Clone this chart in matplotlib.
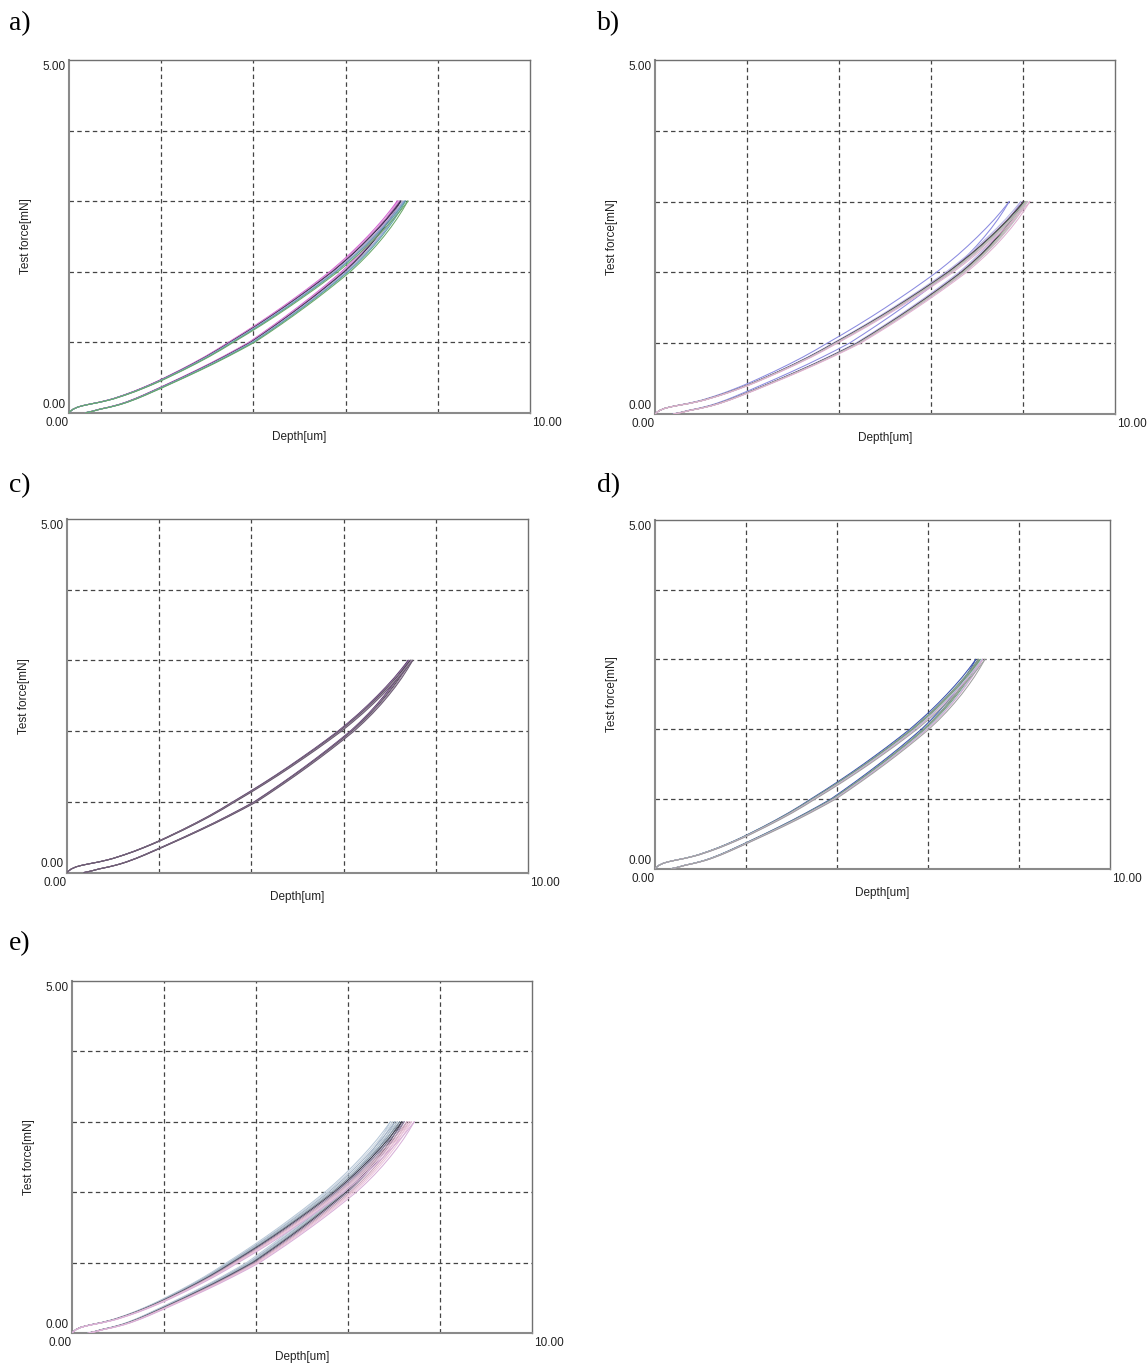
import matplotlib
matplotlib.use("Agg")
import matplotlib.pyplot as plt
import numpy as np

# ---------------- data ----------------
# Representative test-force / depth curve (panel a scale, hmax = 7.2 um)
FORCE = [0, 0.02, 0.05, 0.08, 0.1, 0.12, 0.15, 0.18, 0.2, 0.25, 0.3, 0.35,
         0.4, 0.45, 0.5, 0.6, 0.7, 0.8, 0.9, 1.0, 1.125, 1.25, 1.375, 1.5,
         1.625, 1.75, 1.875, 2.0, 2.125, 2.25, 2.375, 2.5, 2.625, 2.75,
         2.875, 3.0]
LOAD_DEPTH = [0, 0.03, 0.09, 0.19, 0.3, 0.44, 0.67, 0.86, 0.97, 1.2, 1.41,
              1.6, 1.78, 1.95, 2.11, 2.42, 2.715, 2.995, 3.255, 3.5, 3.81,
              4.11, 4.4, 4.68, 4.95, 5.215, 5.47, 5.72, 5.945, 6.16, 6.36,
              6.55, 6.73, 6.9, 7.055, 7.2]
UNLOAD_DEPTH = [0.36, 0.5, 0.67, 0.88, 1.0, 1.11, 1.25, 1.37, 1.45, 1.63,
                1.8, 1.97, 2.135, 2.3, 2.465, 2.785, 3.095, 3.39, 3.675, 3.95,
                4.23, 4.503, 4.768, 5.025, 5.275, 5.517, 5.752, 5.98, 6.18,
                6.365, 6.535, 6.692, 6.837, 6.97, 7.09, 7.2]
BASE_HMAX = 7.2

# maximum depth of each repeated indentation, per panel
A_HMAX = [7.12, 7.15, 7.18, 7.2, 7.24, 7.27, 7.3, 7.35]
A_COLORS = ['#d35fd3', '#e2a0d8', '#9a5aa8', '#3a2a4a', '#b0b0c8',
            '#8a9ad8', '#5ea7a0', '#6aa86a']
B_HMAX = [7.7, 7.95, 8.0, 8.02, 8.05, 8.08, 8.1, 8.15]
B_COLORS = ['#8a8ae0', '#b8b8e8', '#7a5a90', '#404040', '#a0c0a0',
            '#d0a0c0', '#c0c0c0', '#e0b0d0']
C_HMAX = [7.4, 7.42, 7.45, 7.47, 7.5]
C_COLORS = ['#5a3a6a', '#8a6a9a', '#404040', '#a08aa8', '#6a5a70']
D_HMAX = [7.05, 7.1, 7.12, 7.15, 7.18, 7.2, 7.25]
D_COLORS = ['#3a50b0', '#6a9a8a', '#909090', '#70a070', '#b0c8e0',
            '#d0a8d0', '#a0a0a0']
E_HMAX = [6.92, 6.97, 7.02, 7.07, 7.12, 7.17, 7.22, 7.28, 7.33, 7.38, 7.44]
E_COLORS = ['#b8c8d8', '#c8d4e0', '#a0b0c4', '#b0c0cc', '#8090a0',
            '#404050', '#8a7a9a', '#c8a0b8', '#e0b8cc', '#ecc4dc', '#d8b0d8']

PANEL_LABELS = ['a)', 'b)', 'c)', 'd)', 'e)']
X_LIMITS = [0.0, 10.0]
Y_LIMITS = [0.0, 5.0]
X_GRID = [2, 4, 6, 8]
Y_GRID = [1, 2, 3, 4]
X_LABEL = 'Depth[um]'
Y_LABEL = 'Test force[mN]'

# ---------------- layout ----------------
W, H = 1148, 1367
fig = plt.figure(figsize=(W / 100, H / 100), dpi=100)
plt.rcParams['lines.scale_dashes'] = False

# axes boxes in pixels: left, top, right, bottom
boxes = [(69, 60, 530, 412.7), (655, 60, 1115, 414),
         (67, 519, 528, 872.5), (655, 520, 1110, 868.7),
         (72, 981, 532, 1333)]
label_pos = [(9, 24), (597, 24), (9, 486), (597, 486), (9, 944)]
panels = [(A_HMAX, A_COLORS), (B_HMAX, B_COLORS), (C_HMAX, C_COLORS),
          (D_HMAX, D_COLORS), (E_HMAX, E_COLORS)]

sans = ['Liberation Sans', 'DejaVu Sans']
tcol = '#222222'
fs = 8.5

force = np.array(FORCE)
load = np.array(LOAD_DEPTH)
unload = np.array(UNLOAD_DEPTH)

for (l, t, r, b), (lx, ly), lab, (hm, cols) in zip(boxes, label_pos, PANEL_LABELS, panels):
    ax = fig.add_axes([l / W, 1 - b / H, (r - l) / W, (b - t) / H])
    ax.set_xlim(*X_LIMITS)
    ax.set_ylim(*Y_LIMITS)
    ax.set_xticks(X_GRID)
    ax.set_yticks(Y_GRID)
    ax.tick_params(length=0, labelbottom=False, labelleft=False)
    ax.grid(True, color='#444444', linewidth=0.9, linestyle=(0, (3.2, 2.4)))
    for s in ['left', 'bottom']:
        ax.spines[s].set_color('#8a8a8a')
        ax.spines[s].set_linewidth(1.5)
    for s in ['top', 'right']:
        ax.spines[s].set_color('#707070')
        ax.spines[s].set_linewidth(1.0)

    for h, c in zip(hm, cols):
        k = h / BASE_HMAX
        ax.plot(load * k, force, color=c, lw=0.75, zorder=3)
        ax.plot(unload * k, force, color=c, lw=0.75, zorder=3)

    # corner labels
    ax.annotate('5.00', xy=(0, 1), xycoords='axes fraction', xytext=(-2.5, -0.5),
                textcoords='offset points', ha='right', va='top',
                fontsize=fs, family=sans, color=tcol)
    ax.annotate('0.00', xy=(0, 0), xycoords='axes fraction', xytext=(-2.5, 1.5),
                textcoords='offset points', ha='right', va='bottom',
                fontsize=fs, family=sans, color=tcol)
    ax.annotate('0.00', xy=(0, 0), xycoords='axes fraction', xytext=(0, -3),
                textcoords='offset points', ha='right', va='top',
                fontsize=fs, family=sans, color=tcol)
    ax.annotate('10.00', xy=(1, 0), xycoords='axes fraction', xytext=(1.5, -3),
                textcoords='offset points', ha='left', va='top',
                fontsize=fs, family=sans, color=tcol)
    ax.annotate(X_LABEL, xy=(0.5, 0), xycoords='axes fraction', xytext=(0, -13),
                textcoords='offset points', ha='center', va='top',
                fontsize=fs, family=sans, color=tcol)
    ax.annotate(Y_LABEL, xy=(0, 0.5), xycoords='axes fraction', xytext=(-31, 0),
                textcoords='offset points', ha='center', va='center',
                rotation=90, fontsize=fs, family=sans, color=tcol)

    fig.text(lx / W, 1 - ly / H, lab, fontsize=20,
             family=['Liberation Serif', 'DejaVu Serif'],
             ha='left', va='center', color='black')

fig.savefig('out.png', dpi=100, facecolor='white')
